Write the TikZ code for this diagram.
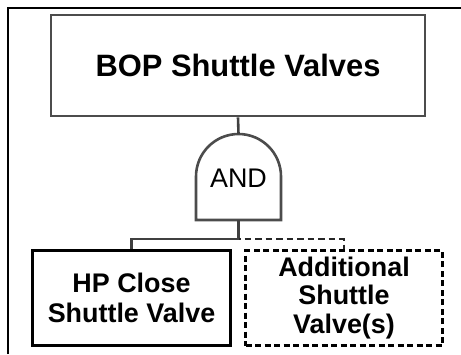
\documentclass[tikz,border=0pt]{standalone}
\usepackage{fontspec}
\setmainfont{Liberation Sans}
\begin{document}
\begin{tikzpicture}[x=1bp,y=-1bp,
  topbox/.style={draw=black!70, line width=2.8bp, minimum width=374bp, minimum height=101bp,
    inner sep=0pt, font=\fontsize{31}{34}\selectfont\bfseries},
  eventbox/.style={draw=black, line width=3bp, minimum width=197bp, minimum height=95bp,
    inner sep=0pt, align=center, font=\fontsize{27}{30}\selectfont\bfseries},
  optbox/.style={eventbox, dash pattern=on 6bp off 3.5bp, line width=2.8bp,
    font=\fontsize{27}{28.5}\selectfont\bfseries},
  gateline/.style={draw=black!70, line width=2.6bp},
  link/.style={draw=black!75, line width=2.6bp},
  optlink/.style={draw=black!85, line width=2.8bp, dash pattern=on 6.5bp off 4bp, dash phase=-6bp},
  frame/.style={draw=black, line width=2bp}]
\useasboundingbox (0,0) rectangle (461,354);

% outer frame (left and top edges)
\draw[frame] (8,354) -- (8,7.5) -- (461,7.5);

% top event
\node[topbox] (top) at (238,65.5) {BOP Shuttle Valves};

% AND gate
\coordinate (gtop) at (238.5,134);
\coordinate (gbot) at (238.5,220);
\draw[gateline] (196,220) -- (196,176.5) arc[start angle=180, end angle=360, radius=42.5]
  -- (281,220) -- cycle;
\node[anchor=base, inner sep=0pt, font=\fontsize{27}{30}\selectfont] (gate) at (238.5,187) {AND};

% basic events
\node[eventbox] (hp) at (131.5,297.5) {HP Close\\Shuttle Valve};
\node[optbox] (add) at (344,298) {Additional\\Shuttle\\Valve(s)};

% connectors
\coordinate (split) at (238.5,239);
\draw[link] (top.south) -- (gtop);
\draw[link] (gbot) -- (split) -| (hp.north);
\draw[optlink] (split) -| (add.north);
\end{tikzpicture}
\end{document}
